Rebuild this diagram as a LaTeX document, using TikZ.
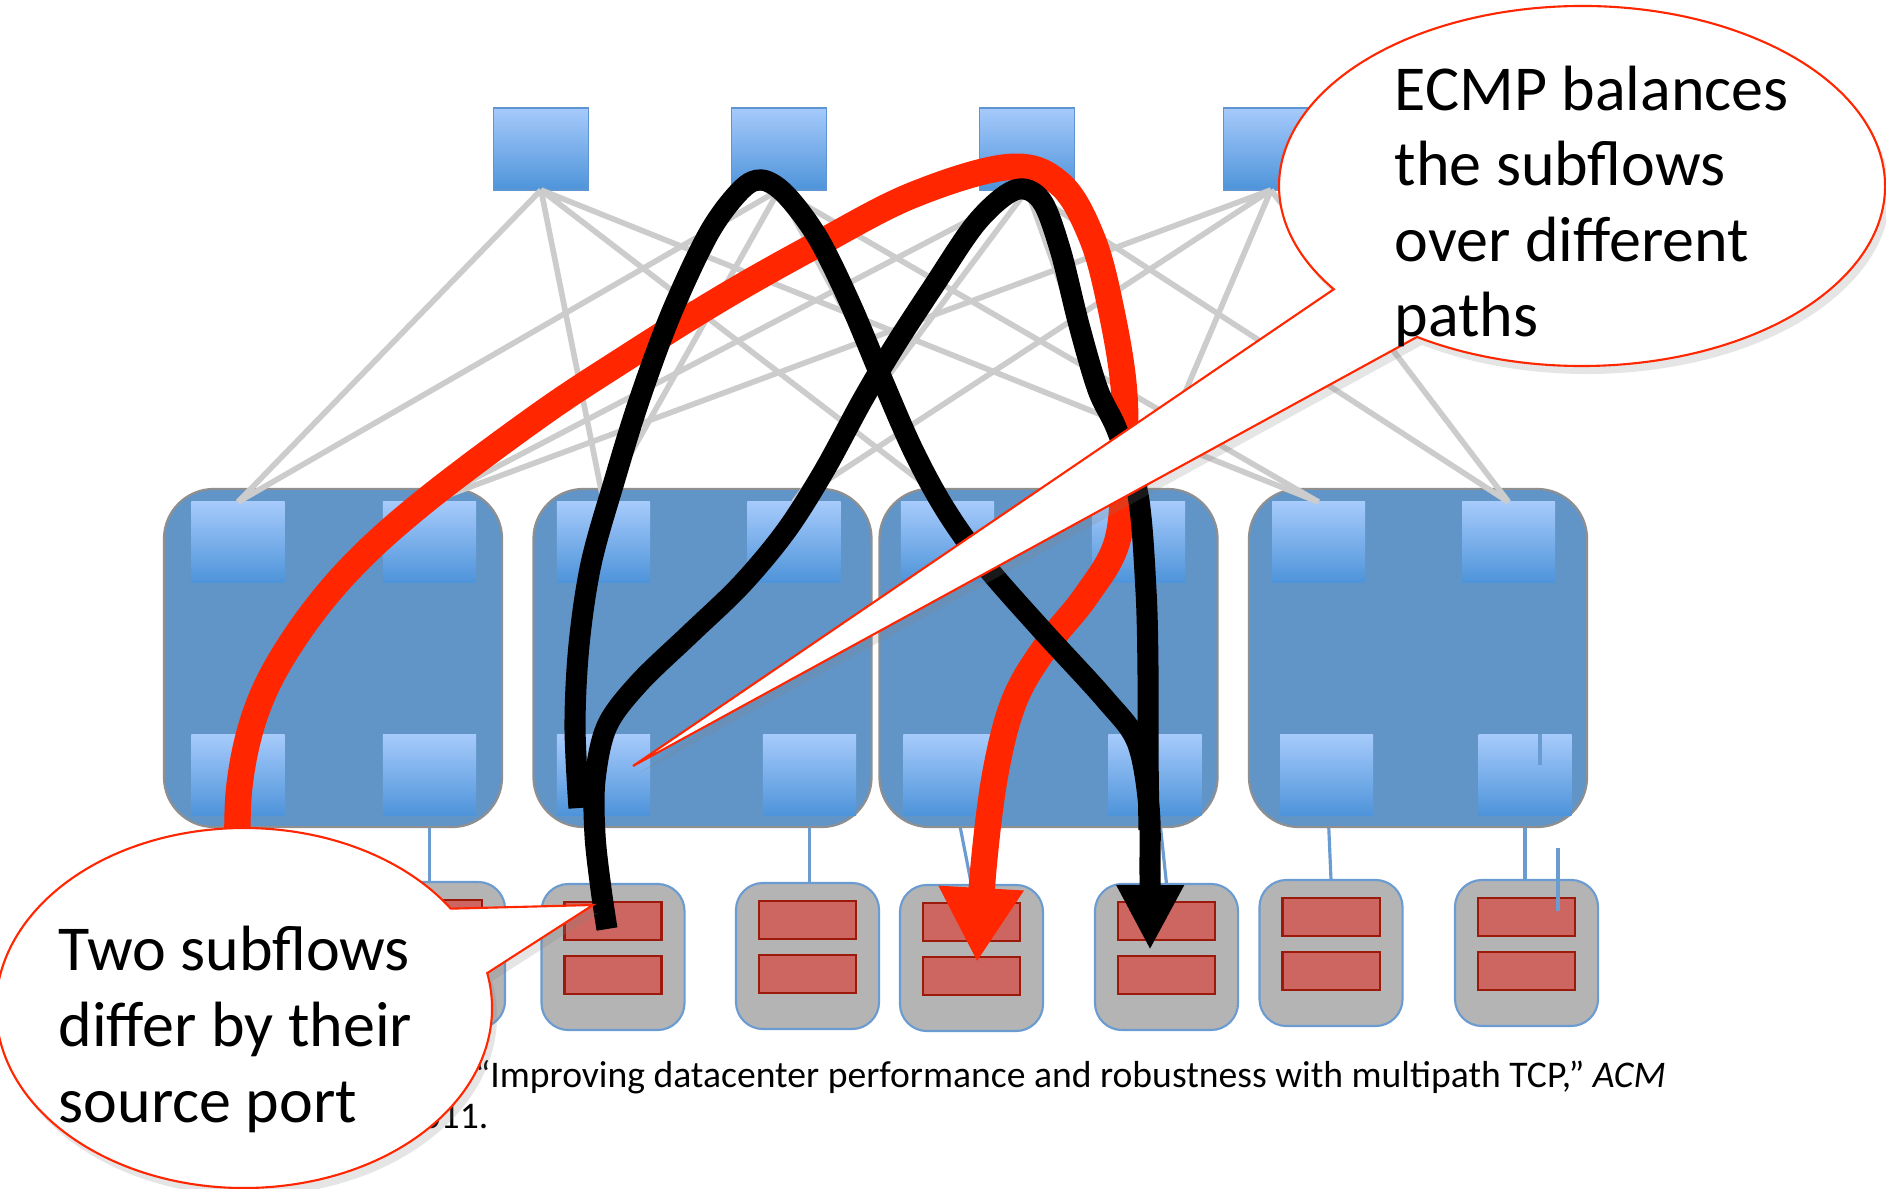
\documentclass[tikz,border=0pt]{standalone}
\usepackage{fontspec}
\setmainfont{Carlito}
\usetikzlibrary{arrows.meta, positioning, calc, shadows}
\pgfdeclarelayer{back}
\pgfsetlayers{back,main}
\definecolor{dcbg}{HTML}{FFFFFF}
\definecolor{dcpod}{HTML}{6295C7}
\definecolor{dcpodline}{HTML}{8F8F8F}
\definecolor{dcswtop}{HTML}{A6CAFB}
\definecolor{dcswbot}{HTML}{4E94DA}
\definecolor{dcswline}{HTML}{5F95D2}
\definecolor{dclink}{HTML}{CCCCCC}
\definecolor{dcwire}{HTML}{6A9BD1}
\definecolor{dchost}{HTML}{B4B4B4}
\definecolor{dcdisk}{HTML}{CD6660}
\definecolor{dcdiskline}{HTML}{9B1A0C}
\definecolor{dcred}{HTML}{FF2600}
\definecolor{dctext}{HTML}{000000}
\tikzset{
  core/.style={rectangle, draw=dcswline, line width=0.5pt, top color=dcswtop, bottom color=dcswbot,
               minimum width=9.5mm, minimum height=8.2mm, inner sep=0pt, outer sep=0pt},
  sw/.style={rectangle, top color=dcswtop, bottom color=dcswbot,
             minimum width=9.3mm, minimum height=8mm, inner sep=0pt, outer sep=0pt},
  pod/.style={rectangle, rounded corners=5mm, draw=dcpodline, fill=dcpod, line width=0.6pt,
              minimum width=33.8mm, minimum height=33.8mm, inner sep=0pt, outer sep=0pt},
  host/.style={rectangle, rounded corners=2.7mm, draw=dcwire, fill=dchost, line width=0.6pt,
               minimum width=14.3mm, minimum height=14.6mm, inner sep=0pt, outer sep=0pt},
  disk/.style={rectangle, draw=dcdiskline, fill=dcdisk, line width=0.6pt,
               minimum width=9.7mm, minimum height=3.8mm, inner sep=0pt, outer sep=0pt},
  uplink/.style={draw=dclink, line width=1.6pt},
  wire/.style={draw=dcwire, line width=0.9pt},
  redflow/.style={draw=dcred, line width=7.5pt, line join=round, -{Triangle[length=7.4mm, width=8mm]}},
  blackflow/.style={draw=black, line width=6pt, line join=round},
  callout/.style={draw=dcred, line width=0.6pt, fill=white,
                  drop shadow={opacity=0.2, shadow xshift=0.5mm, shadow yshift=-0.8mm}},
  note/.style={font=\fontsize{18.2}{21.5}\selectfont, text=dctext, align=left, inner sep=0pt},
  cite/.style={font=\fontsize{10.7}{12.5}\selectfont, text=dctext, inner sep=0pt},
}
\begin{document}
\begin{tikzpicture}[x=0.01cm, y=-0.01cm]
  \useasboundingbox (0,0) rectangle (1886,1189);
  \node[pod] (pod1) at (333,658) {};
  \node[pod] (pod2) at (702.5,658) {};
  \node[pod] (pod3) at (1048.5,658) {};
  \node[pod] (pod4) at (1418,658) {};
  \node[sw] (agg1l) at (238,542) {};
  \node[sw] (agg1r) at (429.5,542) {};
  \node[sw] (edge1l) at (238,775) {};
  \node[sw] (edge1r) at (429.5,775) {};
  \node[sw] (agg2l) at (603.5,542) {};
  \node[sw] (agg2r) at (794,542) {};
  \node[sw] (edge2l) at (603.5,775) {};
  \node[sw] (edge2r) at (809.5,775) {};
  \node[sw] (agg3l) at (947.5,542) {};
  \node[sw] (agg3r) at (1138.5,542) {};
  \node[sw] (edge3l) at (950,775) {};
  \node[sw] (edge3r) at (1155,775) {};
  \node[sw] (agg4l) at (1318.5,542) {};
  \node[sw] (agg4r) at (1508.5,542) {};
  \node[sw] (edge4l) at (1326.5,775) {};
  \node[sw] (edge4r) at (1525,775) {};
  \node[core] (core1) at (541,149) {};
  \node[core] (core2) at (779,149) {};
  \node[core] (core3) at (1027,149) {};
  \node[core] (core4) at (1271,149) {};
  \draw[uplink] (core1.south) -- (agg1l.north) (core1.south) -- (agg2l.north) (core1.south) -- (agg3l.north) (core1.south) -- (agg4l.north);
  \draw[uplink] (core2.south) -- (agg1l.north) (core2.south) -- (agg2l.north) (core2.south) -- (agg3l.north) (core2.south) -- (agg4l.north);
  \draw[uplink] (core3.south) -- (agg1r.north) (core3.south) -- (agg2r.north) (core3.south) -- (agg3r.north) (core3.south) -- (agg4r.north);
  \draw[uplink] (core4.south) -- (agg1r.north) (core4.south) -- (agg2r.north) (core4.south) -- (agg3r.north) (core4.south) -- (agg4r.north);
  \node[host] (host1) at (433.5,955) {};
  \node[disk, below=1.8mm of host1.north] (disk1a) {};
  \node[disk, below=1.6mm of disk1a] (disk1b) {};
  \node[host] (host2) at (613,957) {};
  \node[disk, below=1.8mm of host2.north] (disk2a) {};
  \node[disk, below=1.6mm of disk2a] (disk2b) {};
  \node[host] (host3) at (807.5,956) {};
  \node[disk, below=1.8mm of host3.north] (disk3a) {};
  \node[disk, below=1.6mm of disk3a] (disk3b) {};
  \node[host] (host4) at (971.5,958) {};
  \node[disk, below=1.8mm of host4.north] (disk4a) {};
  \node[disk, below=1.6mm of disk4a] (disk4b) {};
  \node[host] (host5) at (1166.5,957) {};
  \node[disk, below=1.8mm of host5.north] (disk5a) {};
  \node[disk, below=1.6mm of disk5a] (disk5b) {};
  \node[host] (host6) at (1331,953) {};
  \node[disk, below=1.8mm of host6.north] (disk6a) {};
  \node[disk, below=1.6mm of disk6a] (disk6b) {};
  \node[host] (host7) at (1526.5,953) {};
  \node[disk, below=1.8mm of host7.north] (disk7a) {};
  \node[disk, below=1.6mm of disk7a] (disk7b) {};
  \begin{pgfonlayer}{back}
    \fill[dcbg] (0,0) rectangle (1886,1189);
    \draw[wire] (edge1r) -- (edge1r |- host1.north);
    \draw[wire] (edge2l) -- (edge2l |- host2.north);
    \draw[wire] (edge2r) -- (edge2r |- host3.north);
    \draw[wire] (edge3l) -- (host4.north);
    \draw[wire] (edge3r) -- (host5.north);
    \draw[wire] (edge4l) -- (host6.north);
    \draw[wire] (edge4r) -- (edge4r |- host7.north);
  \end{pgfonlayer}
  \coordinate (tick1) at (1540,734);
  \coordinate (tick2) at (1540,765);
  \coordinate (tick3) at (1558,848);
  \coordinate (tick4) at (1558,911);
  \draw[wire] (tick1) -- (tick2);
  \draw[wire] (tick3) -- (tick4);
  \coordinate (redtip) at (977,962);
  \coordinate (blacktip) at (1150,950);
  \draw[redflow] plot[smooth, tension=0.6] coordinates {(238,880) (239,790) (256,712) (290,645) (345,574) (420,505) (537,417) (626,358) (722,298) (818,244) (913,195) (1009,167) (1060,184) (1092,238) (1111,309) (1124,390) (1124,466) (1117,542) (1086,596) (1047,645) (1015,699) (996,770) (984,862) (redtip)};
  \draw[blackflow] plot[smooth, tension=0.55] coordinates {(607,929) (601,889) (595,835) (595,780) (607,726) (639,683) (690,634) (741,585) (786,531) (824,471) (862,401) (894,347) (933,287) (977,222) (1015,190) (1041,200) (1060,249) (1079,325) (1098,390) (1117,430) (1138,495) (1146,591) (1148,672) (1148,753) (1149,830)};
  \draw[blackflow, -{Triangle[length=6.5mm, width=6.3mm]}] plot[smooth, tension=0.55] coordinates {(579,808) (575,726) (579,645) (591,564) (614,482) (639,401) (671,314) (709,233) (741,190) (762,180) (786,195) (818,238) (850,303) (882,379) (913,450) (945,509) (984,564) (1041,629) (1105,699) (1137,742) (1149,807) (1150,870) (blacktip)};
  \node[cite, anchor=base west] (citeline) at (474,1087) {“Improving datacenter performance and robustness with multipath TCP,” \textit{ACM}};
  \node[cite, anchor=base east] (citeyear) at (489,1128) {2011.};
  \coordinate (ecmpc) at (1582,186);
  \coordinate (ecmptip) at (633,766);
  \draw[callout] ($(ecmpc)+(145:303 and 180)$) -- (ecmptip) -- ($(ecmpc)+(123:303 and 180)$) arc[start angle=123, end angle=-215, x radius=303, y radius=180] -- cycle;
  \coordinate (portc) at (244,1008);
  \coordinate (porttip) at (593,905);
  \draw[callout] ($(portc)+(-33.5:248 and 180)$) -- (porttip) -- ($(portc)+(-11.2:248 and 180)$) arc[start angle=-11.2, end angle=326.5, x radius=248, y radius=180] -- cycle;
  \node[note, anchor=base west] (ecmpnote) at (1394,337) {ECMP balances\\the subflows\\over different\\paths};
  \node[note, anchor=base west] (portnote) at (58,1122) {Two subflows\\differ by their\\source port};
\end{tikzpicture}
\end{document}
